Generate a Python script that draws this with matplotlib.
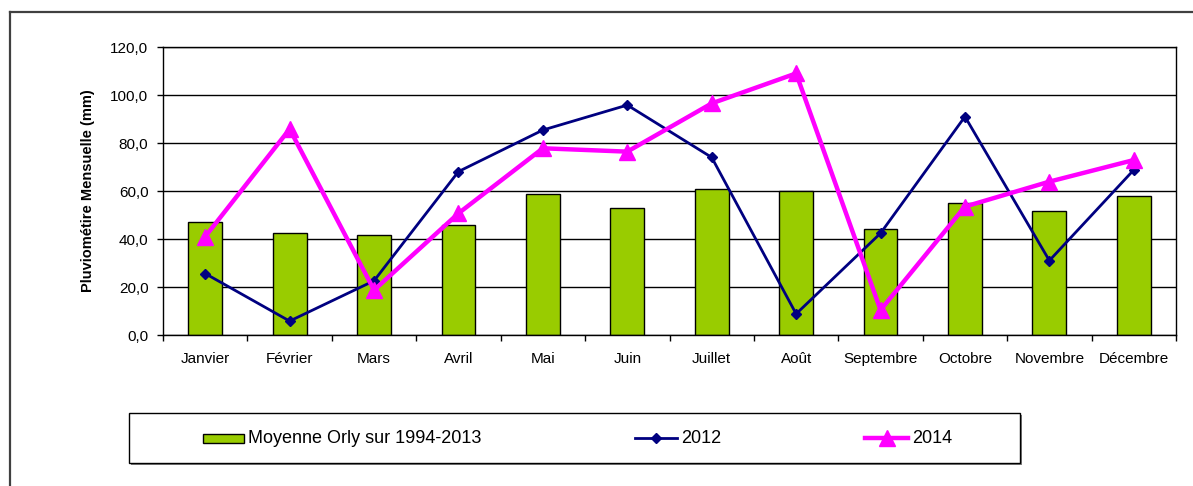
import matplotlib
matplotlib.use("Agg")
import matplotlib.pyplot as plt
from matplotlib.patches import Rectangle
from matplotlib.lines import Line2D
from matplotlib.ticker import FuncFormatter
import numpy as np

plt.rcParams['font.family'] = ['Liberation Sans', 'DejaVu Sans']

months = ['Janvier', 'Février', 'Mars', 'Avril', 'Mai', 'Juin', 'Juillet',
          'Août', 'Septembre', 'Octobre', 'Novembre', 'Décembre']
moyenne = [47.2, 42.4, 41.7, 45.8, 58.6, 53.1, 60.8, 60.1, 44.2, 54.9, 51.8, 57.9]
y2012 = [25.6, 5.8, 22.6, 68.1, 85.4, 95.8, 74.0, 8.8, 42.4, 91.0, 31.0, 68.8]
y2014 = [41.0, 85.8, 18.7, 50.7, 77.8, 76.4, 96.5, 109.0, 10.4, 53.5, 63.9, 72.9]
yticks = [0, 20, 40, 60, 80, 100, 120]
labels = ['Moyenne Orly sur 1994-2013', '2012', '2014']

W, H = 1193, 486
fig = plt.figure(figsize=(W / 100, H / 100), dpi=100)
fig.patch.set_facecolor('white')

def fx(px):
    return px / W

def fy(py):
    return 1 - py / H

ax = fig.add_axes([fx(163), fy(335), (1176 - 163) / W, (335 - 47) / H])
x = np.arange(len(months))
ax.set_axisbelow(True)
ax.yaxis.grid(True, color='black', linewidth=1)
ax.bar(x, moyenne, width=0.40, color='#99CC00', edgecolor='black', linewidth=1, zorder=2)
ax.plot(x, y2012, color='#000080', linewidth=2, marker='D', markersize=5.5, zorder=3)
ax.plot(x, y2014, color='#FF00FF', linewidth=3.2, marker='^', markersize=11, zorder=4)

ax.set_xlim(-0.5, len(months) - 0.5)
ax.set_ylim(0, 120)
ax.set_yticks(yticks)
ax.yaxis.set_major_formatter(FuncFormatter(lambda v, p: f"{v:.1f}".replace('.', ',')))
ax.set_xticks(x)
ax.set_xticklabels(months)
ax.set_xticks(np.arange(-0.5, len(months)), minor=True)
ax.tick_params(axis='x', which='major', length=0, pad=12, labelsize=11)
ax.tick_params(axis='x', which='minor', length=4.5, width=1, direction='out')
ax.tick_params(axis='y', which='major', length=4.5, width=1, direction='out', pad=6, labelsize=11)
for s in ax.spines.values():
    s.set_color('black')
    s.set_linewidth(1)
ax.set_ylabel('Pluviométire Mensuelle (mm)', fontsize=10.5, fontweight='bold', labelpad=11)

# outer frame
fig.add_artist(Line2D([fx(10), fx(10)], [fy(12), fy(500)], color='#404040', linewidth=1.6))
fig.add_artist(Line2D([fx(10), fx(1200)], [fy(12), fy(12)], color='#404040', linewidth=1.6))

# legend box (with slight shadow)
fig.add_artist(Rectangle((fx(131), fy(465)), fx(1020 - 129), (463 - 413) / H,
                         facecolor='#808080', edgecolor='none'))
fig.add_artist(Rectangle((fx(129), fy(463)), fx(1020 - 129), (463 - 413) / H,
                         facecolor='white', edgecolor='black', linewidth=1))
ly = 438
fig.add_artist(Rectangle((fx(203), fy(442.5)), fx(41), 9 / H,
                         facecolor='#99CC00', edgecolor='black', linewidth=1))
fig.text(fx(248), fy(ly), labels[0], fontsize=13, va='center', ha='left')
fig.add_artist(Line2D([fx(635), fx(677)], [fy(ly), fy(ly)], color='#000080', linewidth=2))
fig.add_artist(Line2D([fx(656)], [fy(ly)], color='#000080', marker='D', markersize=5.5, linestyle='none'))
fig.text(fx(681), fy(ly), labels[1], fontsize=13, va='center', ha='left')
fig.add_artist(Line2D([fx(865), fx(908)], [fy(ly), fy(ly)], color='#FF00FF', linewidth=3.2))
fig.add_artist(Line2D([fx(886.5)], [fy(ly)], color='#FF00FF', marker='^', markersize=11, linestyle='none'))
fig.text(fx(912), fy(ly), labels[2], fontsize=13, va='center', ha='left')

fig.savefig('out.png', dpi=100, facecolor='white')
